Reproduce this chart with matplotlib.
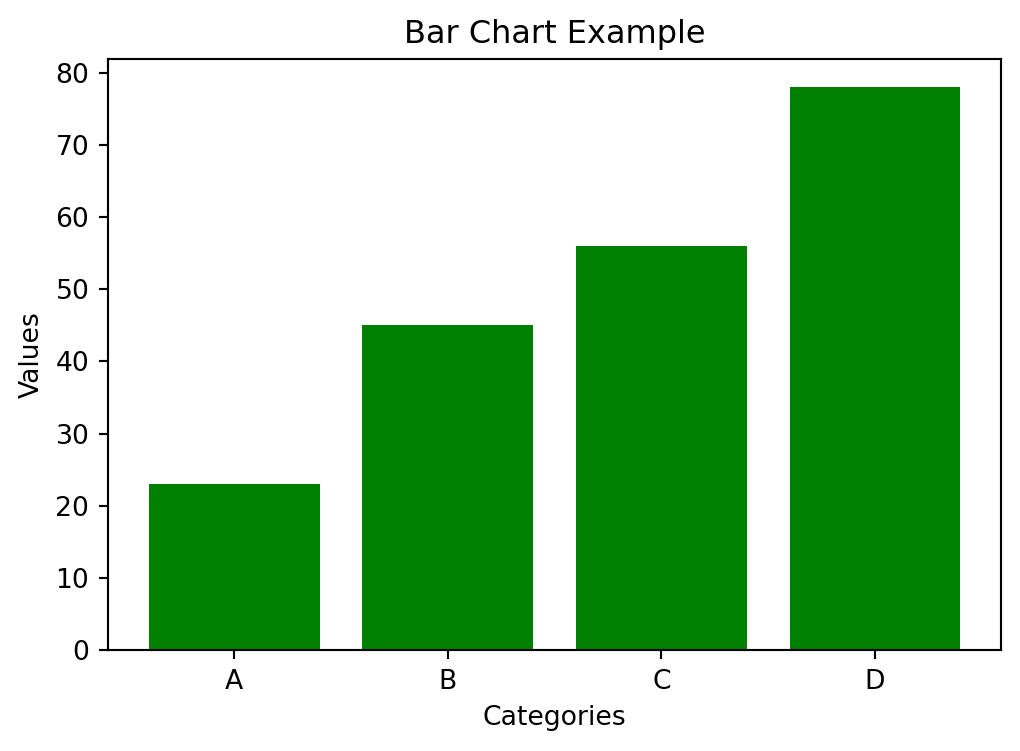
import matplotlib
matplotlib.use('Agg')
import matplotlib.pyplot as plt

categories = ['A', 'B', 'C', 'D']
values = [23, 45, 56, 78]

dpi = 192
fig, ax = plt.subplots(figsize=(1020 / dpi, 751 / dpi), dpi=dpi)
fig.subplots_adjust(left=108 / 1020, right=1001 / 1020, top=1 - 59 / 751, bottom=1 - 650 / 751)

ax.bar(categories, values, color='green')
ax.set_title('Bar Chart Example')
ax.set_xlabel('Categories')
ax.set_ylabel('Values')

fig.savefig('out.png', dpi=dpi)
